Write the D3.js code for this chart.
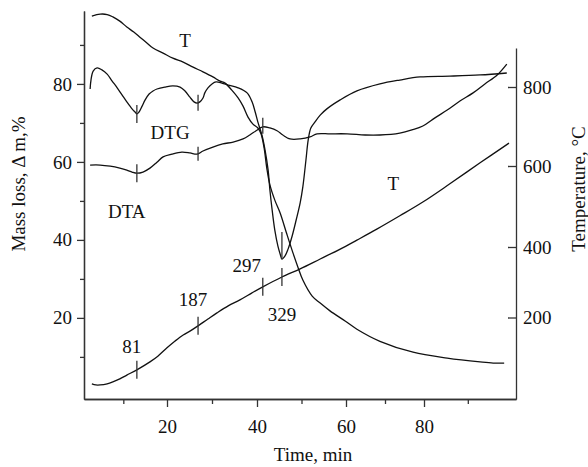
<!DOCTYPE html>
<html lang="en">
<head>
  <meta charset="utf-8" />
  <title>TG / DTG / DTA</title>
  <style>
    html, body { margin: 0; padding: 0; background: #fff; }
    svg { display: block; font-family: "Liberation Serif", "Times New Roman", serif; }
    .axis path, .axis line { stroke: #333; stroke-width: 1.3; }
    .axis text { font-family: "Liberation Serif", "Times New Roman", serif; font-size: 19px; fill: #111; }
    .curve { fill: none; stroke: #111; stroke-width: 1.3; }
    .mark { stroke: #333; stroke-width: 1.3; }
    .lbl { font-size: 19px; fill: #111; }
  </style>
</head>
<body>
<svg id="chart" width="588" height="467"></svg>

<script src="https://d3js.org/d3.v7.min.js"></script>
<script>
  // mass loss curve (labelled T at the top), % vs time, min
  const tgTime = [2.8,4.7,6.3,7.6,9.2,10.8,12.4,13.8,15.4,16.8,19.1,21.3,23.6,25.8,28.0,30.2,31.8,32.9,34.4,35.8,
                  36.9,38.0,39.1,40.2,40.9,41.6,42.2,42.9,44.0,45.2,46.7,48.1,49.2,50.3,52.4,54.2,56.4,59.8,62.8,68.7,
                  77.2,85.3,92.8,95.8,98.3];
  const tgMass = [97.4,97.9,97.8,97.2,96.1,94.6,93.3,92.0,90.5,89.2,87.9,86.6,85.6,84.3,83.1,81.8,80.7,80.2,78.4,76.4,
                  74.3,71.5,69.7,68.7,67.2,63.6,58.4,54.1,50.2,46.9,41.5,36.6,33.0,29.7,25.6,23.8,21.8,19.2,17.1,14.0,
                  11.2,9.7,8.7,8.4,8.4];

  // DTG, plotted on the left scale
  const dtgTime = [2.4,2.6,3.1,4.0,5.1,6.3,7.4,8.6,9.7,10.8,12.0,12.7,13.1,13.6,14.3,15.0,15.9,16.8,17.7,19.5,
                   21.3,22.9,24.0,25.1,26.0,26.7,27.3,28.0,28.4,29.1,30.0,30.9,32.2,33.6,35.8,37.8,38.9,39.6,40.2,41.1,
                   41.8,42.5,42.9,43.4,44.0,44.7,45.2,45.6,46.3,47.0,47.9,48.8,49.7,50.3,51.0,51.5,52.1,53.0,54.2,55.7,
                   58.7,62.8,68.7,73.8,79.0,85.9,92.8,98.9];
  const dtgVal = [78.7,81.0,83.3,84.1,83.6,82.5,80.8,79.0,77.2,75.4,73.6,72.8,72.3,72.8,74.3,75.9,77.4,78.2,78.7,79.2,
                  79.5,79.2,78.2,76.6,75.4,75.1,75.4,76.4,77.7,79.0,80.0,80.5,80.2,79.7,79.0,77.7,75.4,72.8,70.2,66.9,
                  63.1,57.9,52.8,47.7,42.5,38.4,36.4,35.1,35.9,37.7,41.0,45.1,49.5,53.6,60.5,65.6,68.7,70.2,72.0,73.6,
                  75.9,78.2,80.0,81.0,81.8,82.0,82.3,82.8];

  // DTA, plotted on the left scale
  const dtaTime = [2.4,4.7,7.0,9.2,10.8,12.0,13.1,14.5,16.1,17.7,19.1,21.1,23.3,25.1,26.7,28.0,30.2,32.4,34.7,36.9,
                   38.4,39.8,41.3,42.9,44.5,45.8,47.4,49.7,51.9,53.5,56.4,60.3,64.9,68.7,73.8,76.9,79.7,82.5,85.3,88.2,
                   91.2,93.9,96.7,98.9];
  const dtaVal = [59.2,59.2,58.9,58.4,57.9,57.4,57.1,57.4,58.4,59.9,61.3,62.0,62.5,62.3,62.0,62.8,63.8,64.6,65.1,65.9,
                  66.9,68.0,69.0,68.7,68.0,66.9,65.9,65.9,66.4,67.2,67.2,67.2,66.9,66.9,67.4,68.2,69.2,71.3,73.3,75.6,
                  77.7,80.0,82.3,85.1];

  // temperature, °C (right scale)
  const tempTime = [2.8,3.7,4.7,6.3,7.6,9.2,10.8,13.1,16.1,17.9,20.0,21.8,23.6,25.1,26.9,29.1,31.1,33.6,36.2,38.9,
                    41.3,45.6,49.7,54.2,58.7,62.8,67.9,73.8,79.7,85.9,92.8,99.4];
  const tempVal = [25,22,22,25,30,38,48,62,83,98,120,138,154,164,178,196,213,233,250,270,
                   287,315,338,366,394,417,444,477,511,556,608,658];

  // marked events
  const eventTime = [13.1, 26.9, 41.3, 45.6];
  const eventTemp = [81, 187, 297, 329];

  const xTicks = [20, 40, 60, 80];
  const xMinor = [10, 30, 50, 70, 90];
  const massTicks = [20, 40, 60, 80];
  const massMinor = [10, 30, 50, 70, 90];
  const tempTicks = [200, 400, 600, 800];

  const svg = d3.select("#chart");

  // the scanned axes are slightly uneven, so the scales are piecewise
  const x = d3.scaleLinear().domain([1, 20, 40, 60, 80, 101]).range([84, 167, 257, 346, 424, 516]);
  const yL = d3.scaleLinear().domain([-0.8, 98.7]).range([399, 11]);
  const yR = d3.scaleLinear().domain([-15, 200, 400, 600, 800, 900]).range([399, 317.5, 247, 166, 87, 48]);

  // axes
  svg.append("g").attr("class", "axis").attr("transform", "translate(0,399)")
    .call(d3.axisBottom(x).tickValues(xMinor).tickSize(5).tickFormat("").tickSizeOuter(0));
  svg.append("g").attr("class", "axis").attr("transform", "translate(0,399)")
    .call(d3.axisBottom(x).tickValues(xTicks).tickSize(8).tickPadding(13).tickSizeOuter(0));

  svg.append("g").attr("class", "axis").attr("transform", "translate(84,0)")
    .call(d3.axisLeft(yL).tickValues(massMinor).tickSize(4).tickFormat("").tickSizeOuter(0));
  svg.append("g").attr("class", "axis").attr("transform", "translate(84,0)")
    .call(d3.axisLeft(yL).tickValues(massTicks).tickSize(7).tickPadding(5).tickSizeOuter(0));

  svg.append("g").attr("class", "axis").attr("transform", "translate(516,0)")
    .call(d3.axisRight(yR).tickValues(tempTicks).tickSizeInner(-8).tickPadding(7).tickSizeOuter(0));

  svg.selectAll(".axis text").attr("fill", "#111");

  // axis titles
  svg.append("text").attr("class", "lbl").attr("text-anchor", "middle")
    .attr("x", 313).attr("y", 461).text("Time, min");
  svg.append("text").attr("class", "lbl").attr("text-anchor", "middle")
    .attr("transform", "translate(25,184) rotate(-90)").text("Mass loss, Δ m,%");
  svg.append("text").attr("class", "lbl").attr("text-anchor", "middle")
    .attr("transform", "translate(585,189) rotate(-90)").text("Temperature, °C");

  // curves
  const curve = d3.curveCatmullRom.alpha(0.5);
  const lineL = d3.line().x(d => x(d[0])).y(d => yL(d[1])).curve(curve);
  const lineR = d3.line().x(d => x(d[0])).y(d => yR(d[1])).curve(curve);

  const tg = d3.zip(tgTime, tgMass);
  const dtg = d3.zip(dtgTime, dtgVal);
  const dta = d3.zip(dtaTime, dtaVal);
  const temp = d3.zip(tempTime, tempVal);

  svg.append("path").attr("class", "curve").attr("d", lineL(tg));
  svg.append("path").attr("class", "curve").attr("d", lineL(dtg));
  svg.append("path").attr("class", "curve").attr("d", lineL(dta));
  svg.append("path").attr("class", "curve").attr("d", lineR(temp));

  // value of a series at time t (linear between read points)
  function at(series, t) {
    const i = d3.bisector(d => d[0]).left(series, t);
    if (i <= 0) return series[0][1];
    if (i >= series.length) return series[series.length - 1][1];
    const a = series[i - 1], b = series[i];
    return a[1] + (b[1] - a[1]) * (t - a[0]) / (b[0] - a[0]);
  }

  function tick(px, py, up, down) {
    svg.append("line").attr("class", "mark")
      .attr("x1", px).attr("x2", px).attr("y1", py - up).attr("y2", py + down);
  }

  // event marks on DTG, DTA and T
  tick(x(eventTime[0]), yL(at(dtg, eventTime[0])), 9, 9);
  tick(x(eventTime[1]), yL(at(dtg, eventTime[1])), 8, 8);
  tick(x(eventTime[3]), yL(d3.min(dtgVal)), 27, 0);

  tick(x(eventTime[0]), yL(at(dta, eventTime[0])), 9, 9);
  tick(x(eventTime[1]), yL(at(dta, eventTime[1])), 7, 7);
  tick(x(eventTime[2]), yL(at(dta, eventTime[2])), 9, 7);

  const labelOffset = [[-5, -17], [-5, -20], [-16, -15], [0, 44]];
  eventTime.forEach((t, i) => {
    const px = x(t), py = yR(at(temp, t));
    tick(px, py, 9, 9);
    svg.append("text").attr("class", "lbl").attr("text-anchor", "middle")
      .attr("x", px + labelOffset[i][0]).attr("y", py + labelOffset[i][1])
      .text(eventTemp[i]);
  });

  // curve names
  svg.append("text").attr("class", "lbl").attr("text-anchor", "middle")
    .attr("x", x(24)).attr("y", yL(91.3) + 7).text("T");
  svg.append("text").attr("class", "lbl").attr("text-anchor", "middle")
    .attr("x", x(20.7)).attr("y", yL(67.7) + 7).text("DTG");
  svg.append("text").attr("class", "lbl").attr("text-anchor", "middle")
    .attr("x", x(10.8)).attr("y", yL(47.4) + 7).text("DTA");
  svg.append("text").attr("class", "lbl").attr("text-anchor", "middle")
    .attr("x", x(72.1)).attr("y", yR(558) + 7).text("T");
</script>
</body>
</html>
